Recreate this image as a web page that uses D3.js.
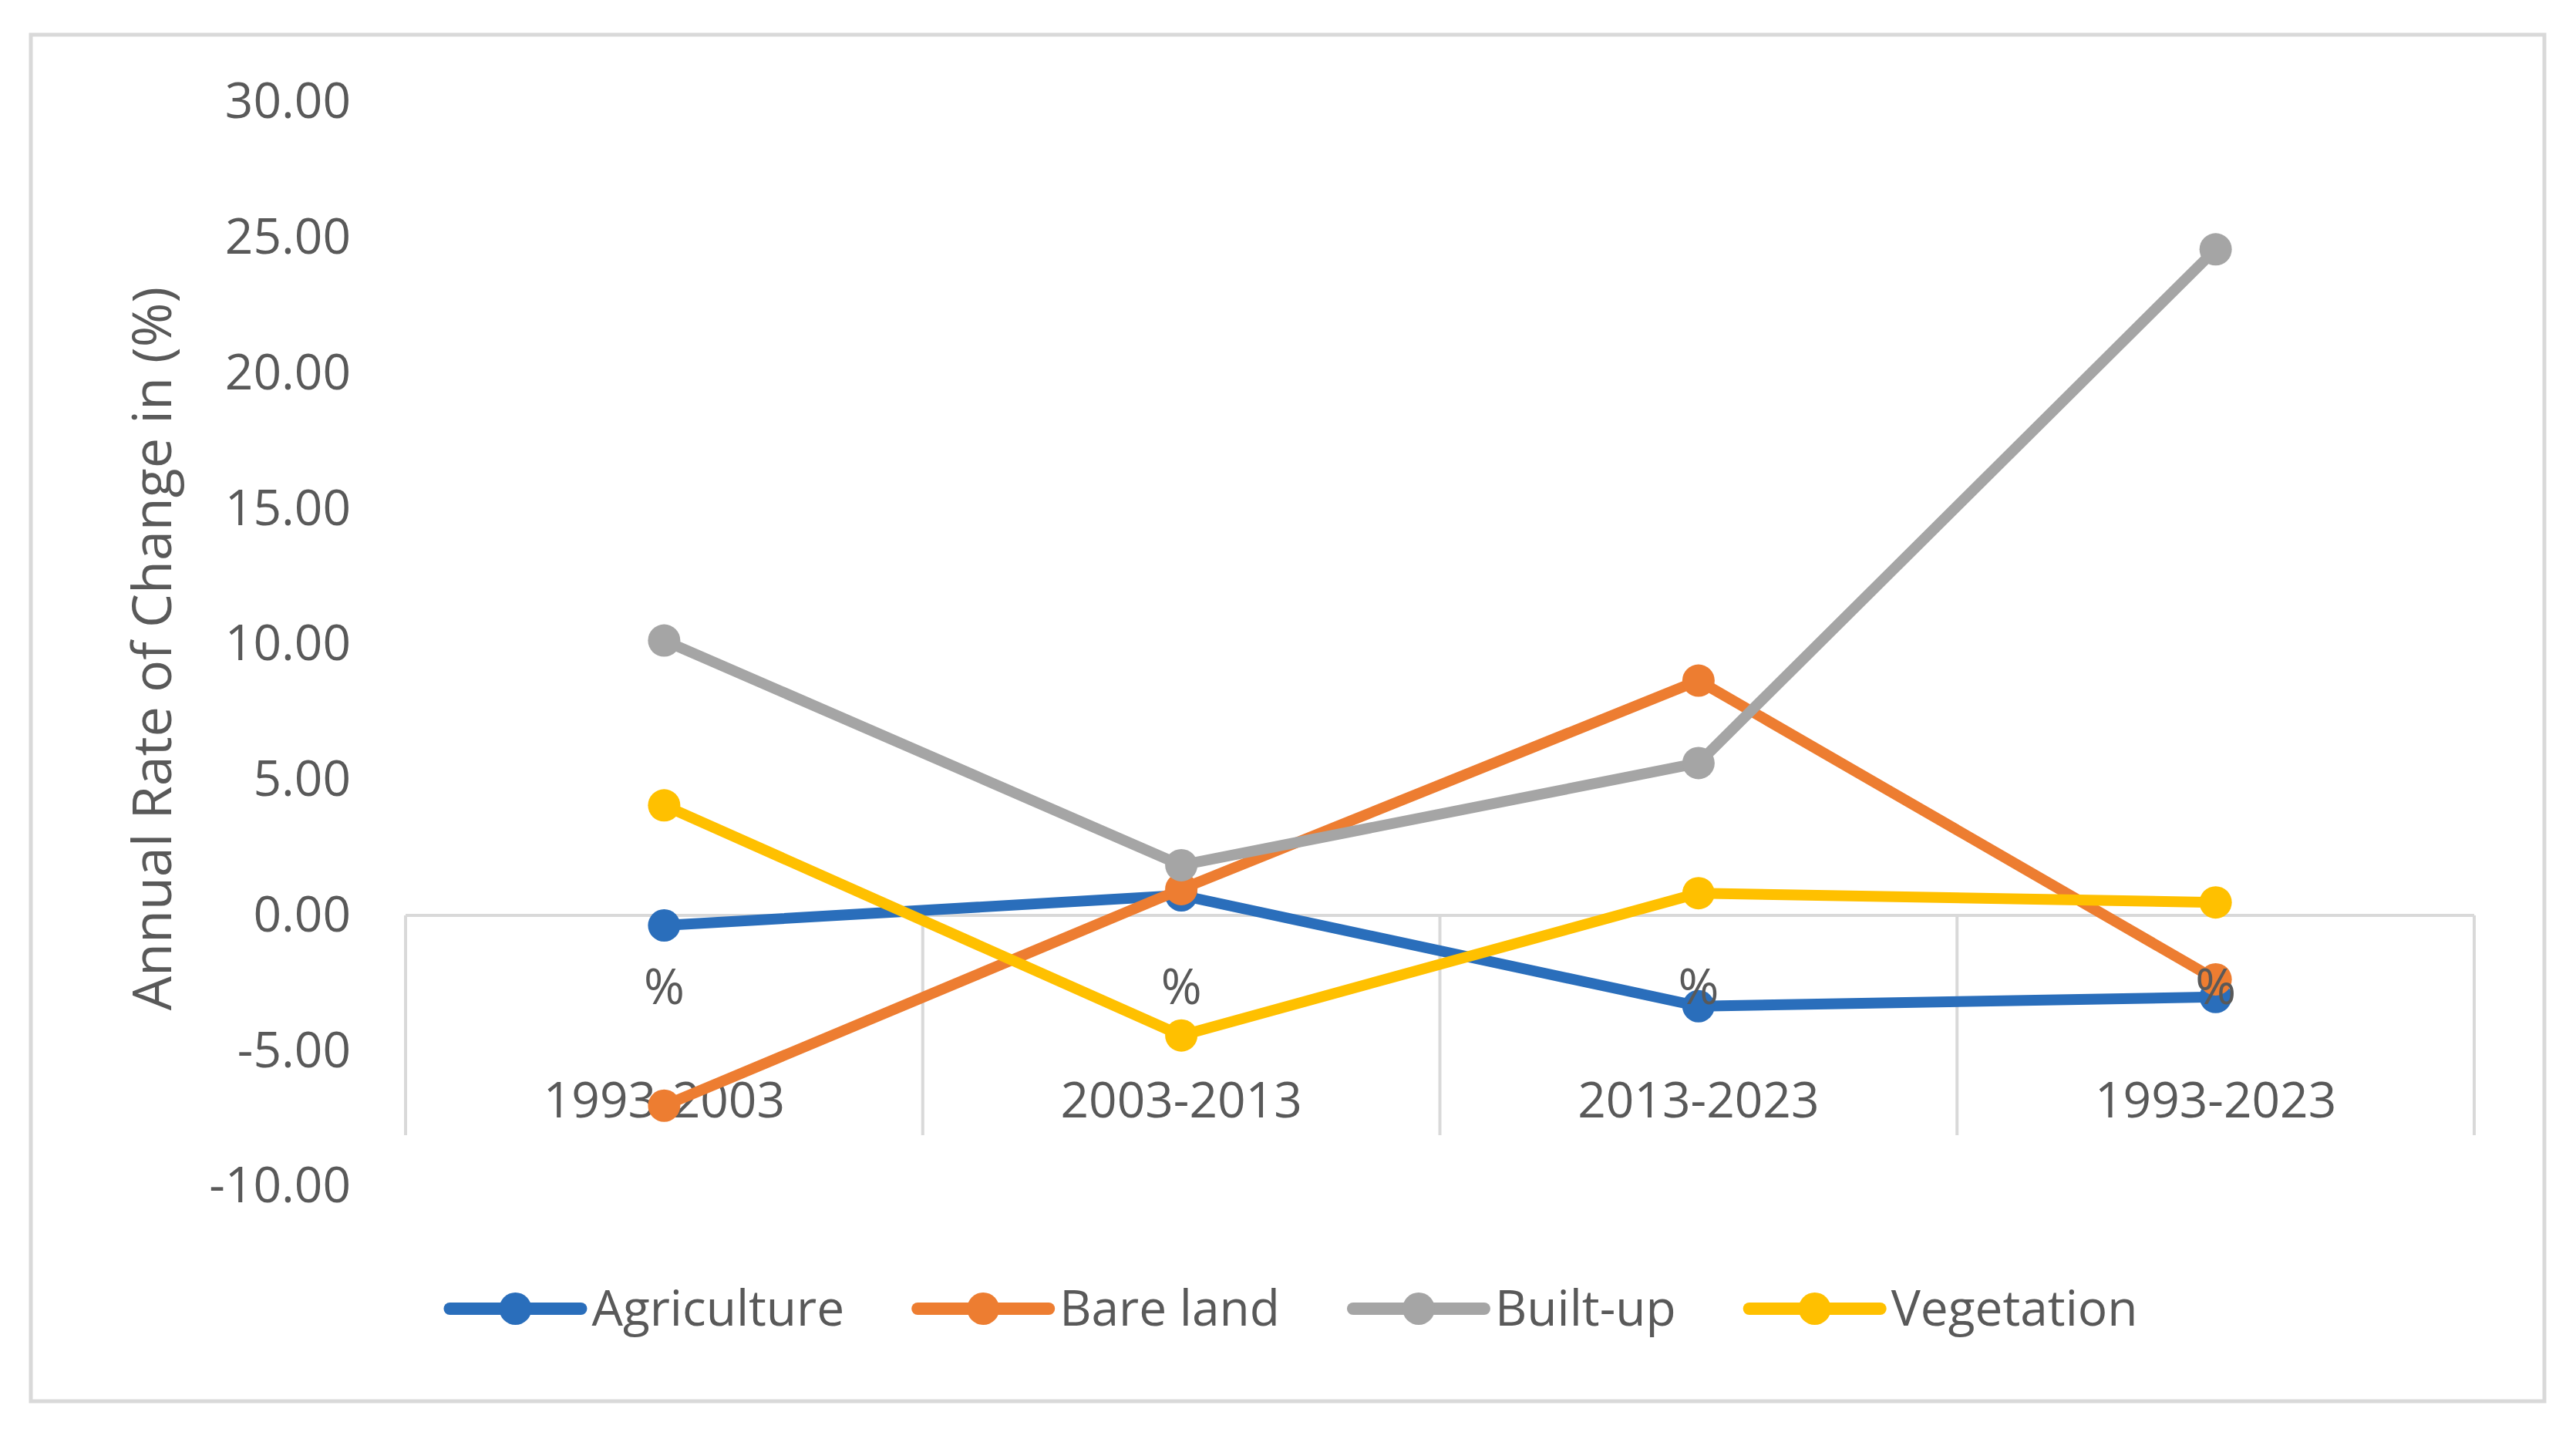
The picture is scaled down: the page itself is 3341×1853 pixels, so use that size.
<!DOCTYPE html>
<html>
<head>
<meta charset="utf-8">
<script src="https://cdn.jsdelivr.net/npm/d3@7"></script>
<style>
  body { margin: 0; background: #fff; }
  text { font-family: "Open Sans", sans-serif; fill: #595959; }
</style>
</head>
<body>
<svg id="chart"></svg>
<script>
// data
const periods = ["1993-2003", "2003-2013", "2013-2023", "1993-2023"];
const unitLabel = "%";
const agriculture = [-0.37, 0.74, -3.35, -3.01];
const bareLand = [-7.02, 0.97, 8.66, -2.36];
const builtUp = [10.14, 1.85, 5.62, 24.57];
const vegetation = [4.06, -4.43, 0.82, 0.48];
const seriesNames = ["Agriculture", "Bare land", "Built-up", "Vegetation"];
const seriesColors = ["#2a6ebb", "#ed7d31", "#a5a5a5", "#ffc000"];
const yTicks = [-10, -5, 0, 5, 10, 15, 20, 25, 30];
const yTitle = "Annual Rate of Change in (%)";

const series = [agriculture, bareLand, builtUp, vegetation].map((vals, i) => ({
  name: seriesNames[i],
  color: seriesColors[i],
  values: vals.map((v, j) => ({ period: periods[j], value: v })),
}));

const W = 3341, H = 1853;
const plot = { left: 526, right: 3209, zeroY: 1187, unit: 35.15 };

const svg = d3.select("#chart").attr("width", W).attr("height", H);

// chart frame
svg.append("rect")
  .attr("x", 40).attr("y", 45)
  .attr("width", 3260).attr("height", 1772)
  .attr("fill", "#fff")
  .attr("stroke", "#d9d9d9")
  .attr("stroke-width", 5);

const x = d3.scalePoint().domain(periods).range([plot.left, plot.right]).padding(0.5);
const band = x.step();

const y = d3.scaleLinear()
  .domain([-10, 30])
  .range([plot.zeroY + 10 * plot.unit, plot.zeroY - 30 * plot.unit]);

// y axis labels (no axis line in the original), plain hyphen for minus
const yAxis = svg.append("g")
  .attr("transform", "translate(455,0)")
  .call(d3.axisLeft(y).tickValues(yTicks).tickFormat((d) => d.toFixed(2)).tickSize(0).tickPadding(0));
yAxis.select(".domain").remove();
yAxis.selectAll("text")
  .attr("font-size", 64)
  .attr("font-family", "Open Sans")
  .attr("fill", "#595959");

svg.append("text")
  .attr("transform", "translate(222," + 841 + ") rotate(-90)")
  .attr("text-anchor", "middle")
  .attr("font-size", 70)
  .text(yTitle);

// category axis at zero with group dividers
const edges = d3.range(periods.length + 1).map((i) => plot.left + i * band);
svg.append("g").selectAll("line")
  .data(edges)
  .join("line")
  .attr("x1", (d) => d).attr("x2", (d) => d)
  .attr("y1", y(0)).attr("y2", 1472)
  .attr("stroke", "#d9d9d9")
  .attr("stroke-width", 4);

svg.append("line")
  .attr("x1", plot.left).attr("x2", plot.right)
  .attr("y1", y(0)).attr("y2", y(0))
  .attr("stroke", "#d9d9d9")
  .attr("stroke-width", 4);

svg.append("g").selectAll("text")
  .data(periods)
  .join("text")
  .attr("x", (d) => x(d))
  .attr("y", 1427)
  .attr("dy", "0.35em")
  .attr("text-anchor", "middle")
  .attr("font-size", 64)
  .text((d) => d);

// lines + markers
const line = d3.line()
  .x((d) => x(d.period))
  .y((d) => y(d.value));

series.forEach((s) => {
  const g = svg.append("g");
  g.append("path")
    .datum(s.values)
    .attr("fill", "none")
    .attr("stroke", s.color)
    .attr("stroke-width", 14)
    .attr("stroke-linejoin", "round")
    .attr("d", line);
  g.selectAll("circle")
    .data(s.values)
    .join("circle")
    .attr("cx", (d) => x(d.period))
    .attr("cy", (d) => y(d.value))
    .attr("r", 21)
    .attr("fill", s.color);
});

// inner category level "%" sits on top
svg.append("g").selectAll("text")
  .data(periods)
  .join("text")
  .attr("x", (d) => x(d))
  .attr("y", 1280)
  .attr("dy", "0.35em")
  .attr("text-anchor", "middle")
  .attr("font-size", 64)
  .text(unitLabel);

// legend
const legend = svg.append("g").attr("transform", "translate(0,1697)");
let lx = 0;
series.forEach((s) => {
  const item = legend.append("g").attr("transform", "translate(" + lx + ",0)");
  item.append("line")
    .attr("x1", 0).attr("x2", 170)
    .attr("stroke", s.color)
    .attr("stroke-width", 16)
    .attr("stroke-linecap", "round");
  item.append("circle").attr("cx", 85).attr("r", 21).attr("fill", s.color);
  const t = item.append("text")
    .attr("x", 184)
    .attr("dy", "0.35em")
    .attr("font-size", 64)
    .text(s.name);
  lx += 184 + t.node().getComputedTextLength() + 95;
});
const legendW = lx - 95;
legend.attr("transform", "translate(" + (1678 - legendW / 2) + ",1697)");
</script>
</body>
</html>
